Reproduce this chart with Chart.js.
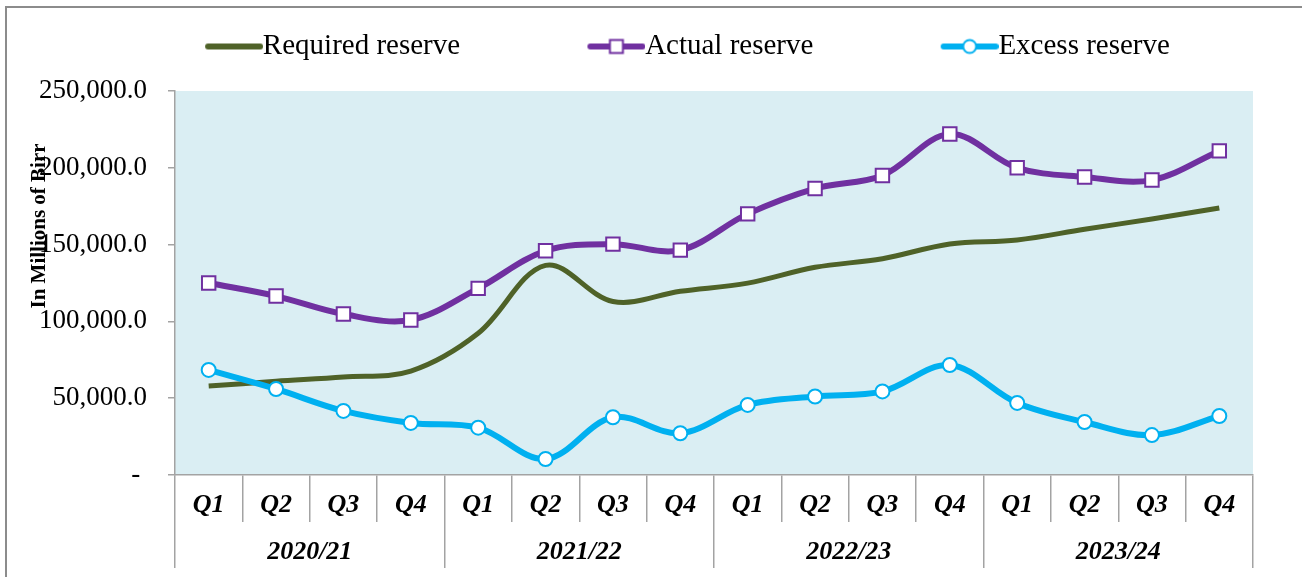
<!DOCTYPE html>
<html>
<head>
<meta charset="utf-8">
<script src="https://cdn.jsdelivr.net/npm/chart.js@4/dist/chart.umd.min.js"></script>
<style>
  html, body { margin: 0; padding: 0; background: #ffffff; }
  #wrap { position: relative; width: 1302px; height: 577px; overflow: hidden; }
  #frame { position: absolute; left: 5px; top: 6px; width: 1400px; height: 700px;
           border-top: 2px solid #8c8c8c; border-left: 2px solid #8c8c8c; }
  canvas { position: absolute; left: 0; top: 0; }
</style>
</head>
<body>
<div id="wrap">
  <div id="frame"></div>
  <canvas id="c" width="1302" height="577"></canvas>
</div>
<script>
const quarters = ['Q1','Q2','Q3','Q4','Q1','Q2','Q3','Q4','Q1','Q2','Q3','Q4','Q1','Q2','Q3','Q4'];
const years = ['2020/21','2021/22','2022/23','2023/24'];
const requiredReserve = [57900, 61000, 63800, 67700, 92300, 136500, 113000, 119600, 124900, 135200, 140800, 150400, 153000, 160000, 166700, 173800];
const actualReserve   = [125000, 116500, 104800, 100900, 121500, 146000, 150300, 146400, 170000, 186500, 195000, 222000, 200000, 194000, 192000, 211000];
const excessReserve   = [68400, 56000, 41700, 33900, 30800, 10400, 37600, 27200, 45600, 51100, 54400, 71600, 46900, 34500, 26000, 38400];
const seriesNames = ['Required reserve', 'Actual reserve', 'Excess reserve'];
const yTicks = [0, 50000, 100000, 150000, 200000, 250000];
const yTitle = 'In Millions of Birr';

const GREEN = '#4F6228', PURPLE = '#7030A0', CYAN = '#00B0F0';
const AXIS = '#a3a3a3';
const SERIF = "'Liberation Serif', 'Times New Roman', serif";

const LEG_FS = 29, LEG_PAD = 18, LEG_BOX = 152.5;
function legendImage(color, marker) {
  const w = Math.round(LEG_BOX + LEG_FS), h = 20;
  const cv = document.createElement('canvas');
  cv.width = w; cv.height = h;
  const g = cv.getContext('2d');
  const x0 = w - 58, cy = h / 2;
  g.strokeStyle = color; g.lineWidth = 6; g.lineCap = 'round';
  g.beginPath(); g.moveTo(x0 + 3, cy); g.lineTo(w - 3, cy); g.stroke();
  const mx = w - 29;
  g.lineWidth = 2; g.fillStyle = '#fff';
  if (marker === 'rect') {
    g.fillRect(mx - 6.5, cy - 6.5, 13, 13); g.strokeRect(mx - 6.5, cy - 6.5, 13, 13);
  } else if (marker === 'circle') {
    g.beginPath(); g.arc(mx, cy, 6.5, 0, Math.PI * 2); g.fill(); g.stroke();
  }
  return cv;
}
const legendImgs = [legendImage(GREEN, null), legendImage(PURPLE, 'rect'), legendImage(CYAN, 'circle')];
const legendTexts = [seriesNames[0], seriesNames[1], seriesNames[2] + ' '];

const bgPlugin = {
  id: 'plotBg',
  beforeDraw(chart) {
    const a = chart.chartArea, ctx = chart.ctx;
    ctx.save(); ctx.fillStyle = '#DAEEF3';
    ctx.fillRect(a.left, a.top, a.right - a.left, a.bottom - a.top);
    ctx.restore();
  },
  afterDraw(chart) {
    const a = chart.chartArea, ctx = chart.ctx;
    ctx.save();
    ctx.translate(a.left - 135, a.top + 135);
    ctx.rotate(-Math.PI / 2);
    ctx.font = "bold 21px " + SERIF;
    ctx.fillStyle = '#000';
    ctx.textAlign = 'center'; ctx.textBaseline = 'middle';
    ctx.fillText(yTitle, 0, 0);
    ctx.restore();
  }
};

new Chart(document.getElementById('c'), {
  type: 'line',
  data: {
    labels: quarters,
    datasets: [
      { label: seriesNames[0], data: requiredReserve, borderColor: GREEN, backgroundColor: GREEN,
        borderWidth: 5, pointRadius: 0, tension: 0.35, order: 3 },
      { label: seriesNames[1], data: actualReserve, borderColor: PURPLE, backgroundColor: '#fff',
        borderWidth: 6, pointStyle: 'rect', pointRadius: 9.5, pointBorderWidth: 2,
        pointBackgroundColor: '#fff', pointBorderColor: PURPLE, tension: 0.35, order: 2 },
      { label: seriesNames[2], data: excessReserve, borderColor: CYAN, backgroundColor: '#fff',
        borderWidth: 6, pointStyle: 'circle', pointRadius: 7, pointBorderWidth: 2,
        pointBackgroundColor: '#fff', pointBorderColor: CYAN, tension: 0.35, order: 1 }
    ]
  },
  options: {
    responsive: false,
    animation: false,
    devicePixelRatio: 1,
    layout: { padding: { left: 20, right: 49, top: 14, bottom: 9 } },
    plugins: {
      tooltip: { enabled: false },
      title: { display: true, text: ' ', weight: 500, font: { size: 10, lineHeight: 1 }, padding: { top: 0, bottom: 10 } },
      legend: {
        display: true, position: 'top', align: 'center',
        labels: {
          usePointStyle: true, pointStyleWidth: LEG_BOX, padding: LEG_PAD,
          color: '#000', font: { family: SERIF, size: LEG_FS },
          generateLabels: () => legendTexts.map((n, i) => ({
            text: n, pointStyle: legendImgs[i], datasetIndex: i, hidden: false,
            fillStyle: 'rgba(0,0,0,0)', strokeStyle: 'rgba(0,0,0,0)', lineWidth: 0, fontColor: '#000'
          }))
        }
      }
    },
    scales: {
      x: {
        type: 'category', position: 'bottom', offset: true,
        grid: { display: true, offset: true, drawOnChartArea: false, drawTicks: true, tickLength: 47, color: AXIS, lineWidth: 1.5 },
        border: { display: true, color: AXIS, width: 1.5 },
        ticks: { color: '#000', font: { family: SERIF, size: 26, weight: 'bold', style: 'italic' }, padding: -32, maxRotation: 0, autoSkip: false },
        afterFit: s => { s.height = 47; }
      },
      x2: {
        type: 'category', position: 'bottom', offset: true, labels: years,
        grid: { display: true, offset: true, drawOnChartArea: false, drawTicks: true, tickLength: 46, color: AXIS, lineWidth: 1.5 },
        border: { display: false },
        ticks: { color: '#000', font: { family: SERIF, size: 26, weight: 'bold', style: 'italic' }, padding: -31, maxRotation: 0, autoSkip: false },
        afterFit: s => { s.height = 46; }
      },
      y: {
        position: 'left', min: yTicks[0], max: yTicks[yTicks.length - 1],
        afterBuildTicks: s => { s.ticks = yTicks.map(v => ({ value: v })); },
        grid: { display: true, drawOnChartArea: false, drawTicks: true, tickLength: 7, color: AXIS, lineWidth: 1.5 },
        border: { display: true, color: AXIS, width: 1.5 },
        ticks: {
          color: '#000', font: { family: SERIF, size: 27 }, padding: 21,
          callback: v => v === 0 ? '- ' : Number(v).toLocaleString('en-US', { minimumFractionDigits: 1, maximumFractionDigits: 1 })
        },
        afterFit: s => { s.width = 155; }
      }
    }
  },
  plugins: [bgPlugin]
});
</script>
</body>
</html>
